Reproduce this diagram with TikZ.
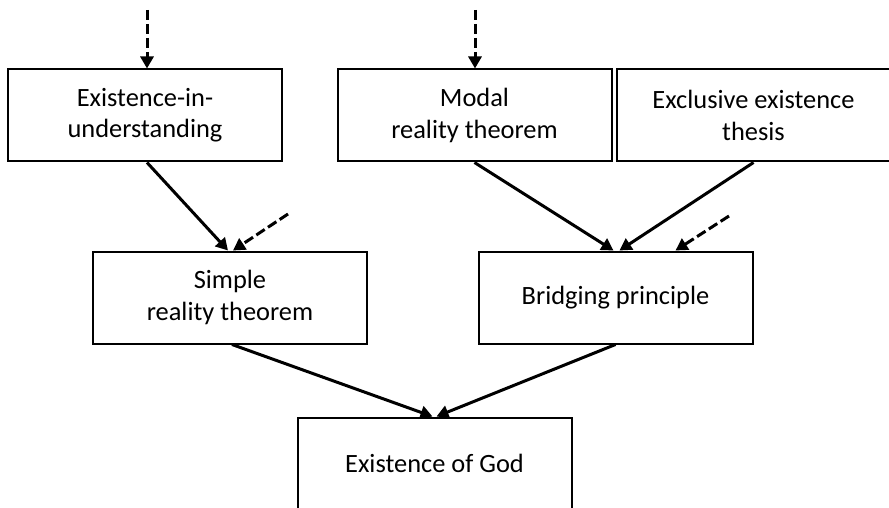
\documentclass[tikz,border=0pt]{standalone}
\usepackage{fontspec}
\setmainfont{Carlito}
\usetikzlibrary{arrows.meta, calc}
\tikzset{
  box/.style  = {draw=black, line width=1pt, align=center, inner sep=2pt,
                 minimum width=137pt, minimum height=46pt,
                 font=\fontsize{13.2}{15.6}\selectfont},
  sig/.style  = {-{Triangle[length=6pt, width=6.5pt]}, line width=1.5pt},
  dsig/.style = {sig, dash pattern=on 5pt off 2pt},
}

\begin{document}
\begin{tikzpicture}[x=0.5pt, y=-0.5pt]
  \useasboundingbox (0,0) rectangle (889,508);

  % premises
  \node[box] (und)    at (145,115.5)   {Existence-in-\\understanding};
  \node[box] (modal)  at (474.5,115.5) {Modal\\reality theorem};
  \node[box] (excl)   at (753.5,115.5) {Exclusive existence\\thesis};
  \node[box] (simple) at (230,297.5)   {Simple\\reality theorem};
  \node[box] (bridge) at (615.5,297.5) {Bridging principle};
  \node[box] (god)    at (434.5,463.5) {Existence of God};

  % loose ends of the dashed inputs
  \coordinate (inund)    at (147,10);
  \coordinate (inmodal)  at (475,10);
  \coordinate (insimple) at (288,214);
  \coordinate (inbridge) at (729,216);

  \draw[dsig] (inund) -- (inund |- und.north);
  \draw[dsig] (inmodal) -- (inmodal |- modal.north);
  \draw[dsig] (insimple) -- ($(simple.north)+(3,0)$);
  \draw[dsig] (inbridge) -- ($(bridge.north)+(60,0)$);

  \draw[sig] ($(und.south)+(2,0)$) -- ($(simple.north)+(-2,0)$);
  \draw[sig] (modal.south) -- ($(bridge.north)+(-2,0)$);
  \draw[sig] (excl.south) -- ($(bridge.north)+(4,0)$);
  \draw[sig] ($(simple.south)+(2,0)$) -- ($(god.north)+(-2,0)$);
  \draw[sig] (bridge.south) -- ($(god.north)+(2,0)$);
\end{tikzpicture}
\end{document}
